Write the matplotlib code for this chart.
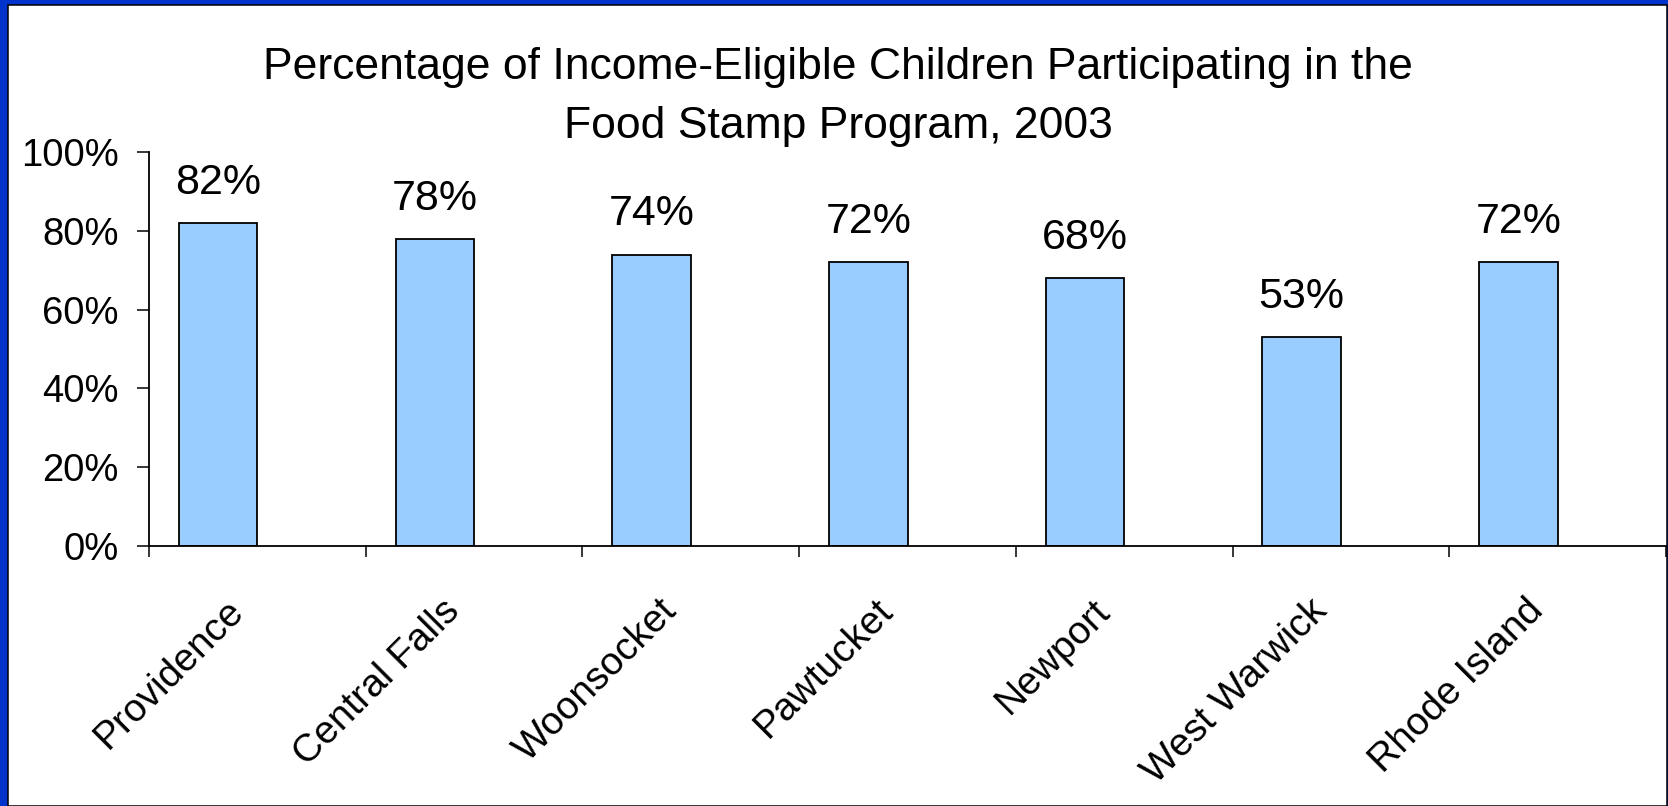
import matplotlib
matplotlib.use("Agg")
import matplotlib.pyplot as plt
from matplotlib.patches import Rectangle
import numpy as np

categories = ["Providence", "Central Falls", "Woonsocket", "Pawtucket",
              "Newport", "West Warwick", "Rhode Island"]
values = [82, 78, 74, 72, 68, 53, 72]
value_labels = ["82%", "78%", "74%", "72%", "68%", "53%", "72%"]
ytick_vals = [0, 20, 40, 60, 80, 100]
ytick_labels = ["0%", "20%", "40%", "60%", "80%", "100%"]
title = "Percentage of Income-Eligible Children Participating in the\nFood Stamp Program, 2003"

plt.rcParams['font.family'] = ['Liberation Sans', 'DejaVu Sans']

W, H = 1668, 806
fig = plt.figure(figsize=(W / 100, H / 100), dpi=100)
fig.patch.set_facecolor('#0033CC')

# white panel with black frame
panel = Rectangle((7.5 / W, 0), (1666.5 - 7.5) / W, (H - 4.5) / H,
                  transform=fig.transFigure, facecolor='white',
                  edgecolor='black', linewidth=1.1, zorder=-5)
fig.patches.append(panel)

ax = fig.add_axes([149 / W, 1 - 545.7 / H, (1666 - 149) / W, (545.7 - 152.3) / H])
ax.set_facecolor('none')
ax.set_zorder(2)

x = np.arange(len(categories))
bar_w = 0.363
offset = -0.181
bars = ax.bar(x + offset, values, width=bar_w, color='#99CCFF',
              edgecolor='black', linewidth=1.3, zorder=2)

for xi, v, lab in zip(x, values, value_labels):
    ax.annotate(lab, (xi + offset, v), xytext=(0, 21), textcoords='offset points',
                ha='center', va='baseline', fontsize=31)

ax.set_xlim(-0.5, len(categories) - 0.5)
ax.set_ylim(0, 100)

ax.set_yticks(ytick_vals)
ax.set_yticklabels(ytick_labels, fontsize=27.5)
ax.tick_params(axis='y', direction='out', length=8.6, width=1.1, pad=13)

ax.set_xticks(np.arange(len(categories) + 1) - 0.5)
ax.set_xticklabels([])
ax.tick_params(axis='x', which='major', direction='out', length=8, width=1.1)
ax.set_xticks(x - 0.09, minor=True)
ax.set_xticklabels(categories, minor=True, fontsize=28, rotation=45,
                   ha='right', va='center', rotation_mode='anchor')
ax.tick_params(axis='x', which='minor', length=0, pad=43)

for s in ['top', 'right']:
    ax.spines[s].set_visible(False)
for s in ['left', 'bottom']:
    ax.spines[s].set_linewidth(1.3)
    ax.spines[s].set_color('black')

fig.text(838 / W, 1 - 97 / H, title, ha='center', va='center', fontsize=32,
         linespacing=1.55, zorder=3)

fig.savefig("out.png", dpi=100, facecolor=fig.get_facecolor())
